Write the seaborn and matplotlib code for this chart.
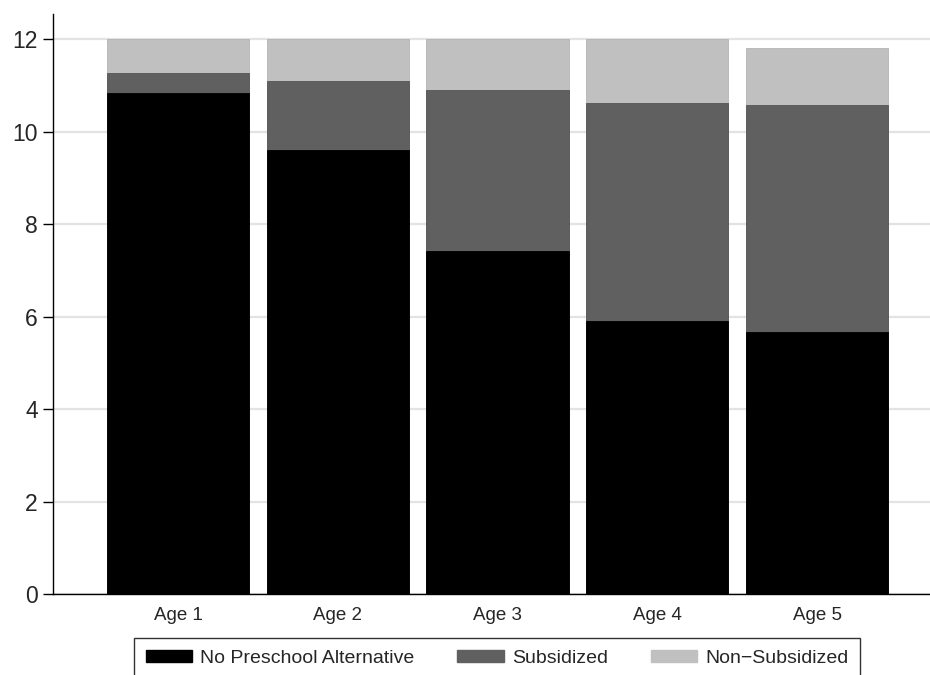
import numpy as np
import pandas as pd
import matplotlib
matplotlib.use("Agg")
import matplotlib.pyplot as plt
import seaborn as sns
from matplotlib.patches import Patch

# data
ages = ["Age 1", "Age 2", "Age 3", "Age 4", "Age 5"]
no_preschool = [10.85, 9.61, 7.43, 5.90, 5.66]
subsidized = [0.42, 1.50, 3.47, 4.73, 4.93]
non_subsidized = [0.73, 0.89, 1.10, 1.37, 1.22]

series_names = ["No Preschool Alternative", "Subsidized", "Non\u2212Subsidized"]
colors = ["#000000", "#606060", "#c0c0c0"]
edges = ["#000000", "#555555", "#b4b4b4"]

sns.set_style("white")
plt.rcParams['font.family'] = ['Liberation Sans', 'DejaVu Sans']

df = pd.DataFrame({"age": ages, "black": no_preschool,
                   "dark": subsidized, "light": non_subsidized})
df["top1"] = df["black"]
df["top2"] = df["black"] + df["dark"]
df["top3"] = df["top2"] + df["light"]

fig = plt.figure(figsize=(9.3, 6.75), dpi=100)
ax = fig.add_axes([53/930, 1 - 594/675, 1 - 53/930, (594 - 14)/675])

# stacked bars: draw cumulative heights from top to bottom
for col, c, e in zip(["top3", "top2", "top1"], colors[::-1], edges[::-1]):
    sns.barplot(data=df, x="age", y=col, color=c, width=0.89, ax=ax,
                edgecolor=e, linewidth=0.6, saturation=1, zorder=2)

ax.set_xlim(-0.782, 4.707)
ax.set_ylim(0, 12.55)
ax.set_yticks([0, 2, 4, 6, 8, 10, 12])
ax.yaxis.grid(True, color="#e3e3e3", linewidth=1.6, zorder=0)
ax.set_axisbelow(True)
ax.set_xlabel("")
ax.set_ylabel("")
ax.tick_params(axis="y", labelsize=16.5, length=7, width=1, color="black",
               left=True, pad=4)
ax.tick_params(axis="x", labelsize=13.5, length=0, pad=9)
for s in ["top", "right"]:
    ax.spines[s].set_visible(False)
for s in ["left", "bottom"]:
    ax.spines[s].set_color("black")
    ax.spines[s].set_linewidth(1)

handles = [Patch(facecolor=c, edgecolor=c) for c in colors]
leg = fig.legend(handles, series_names, loc="upper center",
                 bbox_to_anchor=(497/930, 1 - 638/675), ncol=3,
                 fontsize=14, frameon=True, fancybox=False,
                 handlelength=2.4, handleheight=0.6, handletextpad=0.4,
                 columnspacing=2.2, borderpad=0.6, borderaxespad=0)
leg.get_frame().set_edgecolor("black")
leg.get_frame().set_linewidth(1)

fig.savefig("out.png", dpi=100)
